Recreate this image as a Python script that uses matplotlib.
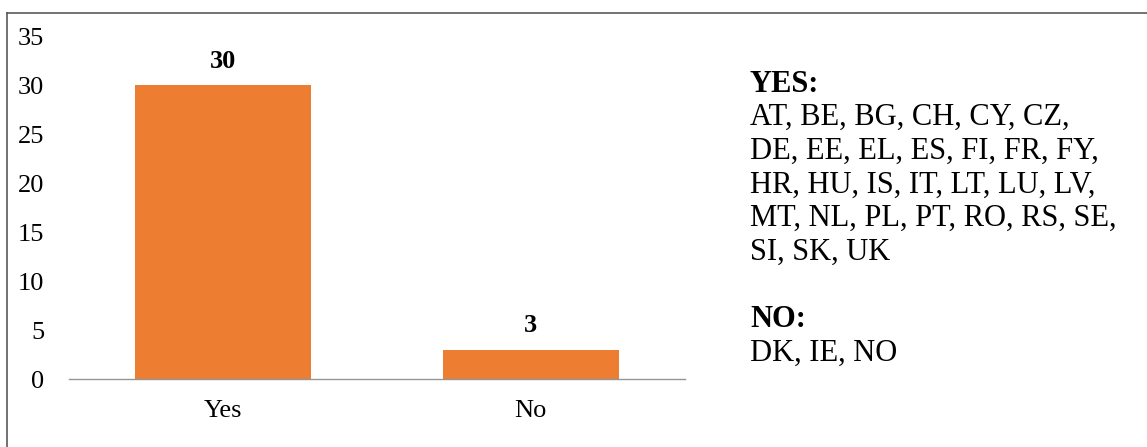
import matplotlib
matplotlib.use("Agg")
import matplotlib.pyplot as plt
from matplotlib.lines import Line2D

categories = ["Yes", "No"]
values = [30, 3]
yticks = [0, 5, 10, 15, 20, 25, 30, 35]
yes_header = "YES:"
yes_lines = ["AT, BE, BG, CH, CY, CZ,",
             "DE, EE, EL, ES, FI, FR, FY,",
             "HR, HU, IS, IT, LT, LU, LV,",
             "MT, NL, PL, PT, RO, RS, SE,",
             "SI, SK, UK"]
no_header = "NO:"
no_lines = ["DK, IE, NO"]

plt.rcParams['font.family'] = ['Liberation Serif', 'DejaVu Serif']

W, H = 1147, 447
fig = plt.figure(figsize=(W / 100, H / 100), dpi=100)
fig.patch.set_facecolor("white")

ax = fig.add_axes([68.5 / W, (H - 379) / H, (685 - 68.5) / W, (379 - 36.5) / H])
x = list(range(len(categories)))
ax.bar(x, values, width=0.571, color="#ED7D31", zorder=2)
ax.set_xlim(-0.5, 1.5)
ax.set_ylim(0, 35)
ax.set_yticks(yticks)
ax.set_xticks(x)
ax.set_xticklabels(categories)
for s in ["top", "right", "left"]:
    ax.spines[s].set_visible(False)
ax.spines["bottom"].set_color("#959595")
ax.spines["bottom"].set_linewidth(1.0)
ax.tick_params(axis="both", length=0, labelsize=19, colors="black")
ax.tick_params(axis="y", pad=17.5)
ax.tick_params(axis="x", pad=15)
for xi, v in zip(x, values):
    ax.annotate(str(v), (xi, v), xytext=(0, 9), textcoords="offset points",
                ha="center", va="bottom", fontsize=19, fontweight="bold")

def ftext(px, py, s, bold=False):
    fig.text(px / W, 1 - py / H, s, fontsize=22, ha="left", va="baseline",
             fontweight="bold" if bold else "normal")

tx = 750
lh = 33.7
y0 = 91.5
ftext(tx, y0, yes_header, bold=True)
for i, line in enumerate(yes_lines):
    ftext(tx, y0 + (i + 1) * lh, line)
ny = y0 + (len(yes_lines) + 2) * lh
ftext(tx, ny, no_header, bold=True)
for i, line in enumerate(no_lines):
    ftext(tx, ny + (i + 1) * lh, line)

# outer frame (top and left edges visible; right/bottom fall outside the image)
fig.add_artist(Line2D([7.5 / W, 7.5 / W], [0, 1 - 13 / H], transform=fig.transFigure,
                      color="#595959", linewidth=1.2))
fig.add_artist(Line2D([7.5 / W, 1.0], [1 - 13 / H, 1 - 13 / H], transform=fig.transFigure,
                      color="#595959", linewidth=1.2))

fig.savefig("out.png", dpi=100)
